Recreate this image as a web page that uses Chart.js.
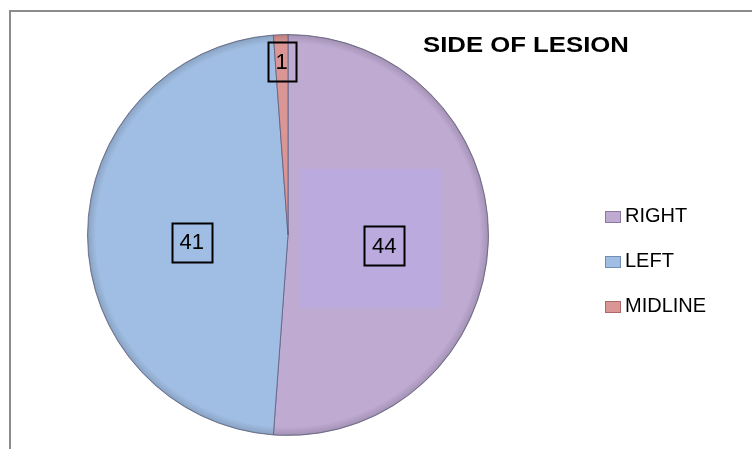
<!DOCTYPE html>
<html>
<head>
<meta charset="utf-8">
<script src="https://cdn.jsdelivr.net/npm/chart.js@4.4.1/dist/chart.umd.min.js"></script>
<style>
  body { margin: 0; background: #fff; }
  #wrap { position: relative; width: 752px; height: 449px; overflow: hidden; background: #fff; }
  #frame { position: absolute; left: 9px; top: 10px; width: 760px; height: 460px;
           border-top: 2px solid #8c8c8c; border-left: 2px solid #8c8c8c; }
  #titulo { position: absolute; left: 423px; top: 34px; font: bold 22px "Liberation Sans", Arial, sans-serif;
            line-height: 22px; color: #000; transform: scaleX(1.17); transform-origin: left top; white-space: nowrap; }
  .leyenda { position: absolute; left: 605px; font: 20px "Liberation Sans", Arial, sans-serif;
             line-height: 20px; color: #000; white-space: nowrap; }
  .leyenda span.caja { position: absolute; left: 0; top: 6px; width: 16px; height: 12px; box-sizing: border-box; }
  .leyenda span.txt { position: absolute; left: 20px; top: 0; }
  canvas { position: absolute; left: 0; top: 0; }
</style>
</head>
<body>
<div id="wrap">
  <canvas id="pieChart" width="752" height="449"></canvas>
  <div id="frame"></div>
  <div id="titulo">SIDE OF LESION</div>
</div>
<script>
// datos del grafico
const categorias = ['RIGHT', 'LEFT', 'MIDLINE'];
const valores = [44, 41, 1];
const colores = ['#BFAAD2', '#A0BEE3', '#D99694'];
const bordes = ['#8a7aa0', '#6f8db5', '#a86a68'];

function oscurecer(hex, f) {
    const n = parseInt(hex.slice(1), 16);
    const r = Math.round(((n >> 16) & 255) * f);
    const g = Math.round(((n >> 8) & 255) * f);
    const b = Math.round((n & 255) * f);
    return `rgb(${r},${g},${b})`;
}

// relleno con borde sombreado (efecto bisel)
function rellenoSlice(ctx) {
    const chart = ctx.chart;
    const a = chart.chartArea;
    const base = colores[ctx.dataIndex];
    if (!a) return base;
    const cx = (a.left + a.right) / 2, cy = (a.top + a.bottom) / 2;
    const r = Math.min(a.right - a.left, a.bottom - a.top) / 2;
    const g = chart.ctx.createRadialGradient(cx, cy, 0, cx, cy, r);
    g.addColorStop(0, base);
    g.addColorStop(0.955, base);
    g.addColorStop(0.99, oscurecer(base, 0.88));
    g.addColorStop(1, oscurecer(base, 0.7));
    return g;
}

// rectangulo claro dentro de la porcion RIGHT
const brilloPlugin = {
    id: 'brillo',
    afterDatasetsDraw(chart) {
        const arc = chart.getDatasetMeta(0).data[0];
        if (!arc) return;
        const c = chart.ctx, r = arc.outerRadius;
        c.save();
        c.fillStyle = '#BAAADE';
        c.fillRect(arc.x + 0.06 * r, arc.y - 0.33 * r, 0.706 * r, 0.693 * r);
        c.restore();
    }
};

// etiquetas con recuadro
const etiquetasPlugin = {
    id: 'etiquetas',
    afterDatasetsDraw(chart) {
        const meta = chart.getDatasetMeta(0);
        const c = chart.ctx;
        c.save();
        c.font = '22px "Liberation Sans", Arial, sans-serif';
        c.textAlign = 'center';
        c.textBaseline = 'middle';
        meta.data.forEach((arc, i) => {
            const mid = (arc.startAngle + arc.endAngle) / 2;
            const chica = (arc.endAngle - arc.startAngle) < 0.3;
            const f = chica ? 0.865 : 0.48;
            const x = arc.x + Math.cos(mid) * arc.outerRadius * f;
            const y = arc.y + Math.sin(mid) * arc.outerRadius * f + (chica ? 0 : 7);
            const txt = String(valores[i]);
            const w = c.measureText(txt).width + 16;
            const h = 39;
            c.lineWidth = 2;
            c.strokeStyle = '#000';
            c.strokeRect(Math.round(x - w / 2) + 0.5, Math.round(y - h / 2) + 0.5, Math.round(w), h);
            c.fillStyle = '#000';
            c.fillText(txt, x, y + 1);
        });
        c.restore();
    }
};

const ctx = document.getElementById('pieChart').getContext('2d');
const myChart = new Chart(ctx, {
    type: 'pie',
    data: {
        labels: categorias,
        datasets: [{
            data: valores,
            backgroundColor: rellenoSlice,
            borderColor: 'rgba(90,90,120,0.75)',
            borderWidth: 1
        }]
    },
    options: {
        responsive: false,
        animation: false,
        layout: { padding: { left: 87, right: 263, top: 34, bottom: 13 } },
        plugins: {
            legend: { display: false },
            title: { display: false },
            tooltip: { enabled: false }
        }
    },
    plugins: [brilloPlugin, etiquetasPlugin]
});

// leyenda en HTML
const wrap = document.getElementById('wrap');
categorias.forEach((cat, i) => {
    const d = document.createElement('div');
    d.className = 'leyenda';
    d.style.top = (205 + i * 45) + 'px';
    d.innerHTML = `<span class="caja" style="background:linear-gradient(${oscurecer(colores[i].replace('#','#'),1.0)}, ${colores[i]}); border:1px solid ${bordes[i]}"></span><span class="txt">${cat}</span>`;
    wrap.appendChild(d);
});
</script>
</body>
</html>
